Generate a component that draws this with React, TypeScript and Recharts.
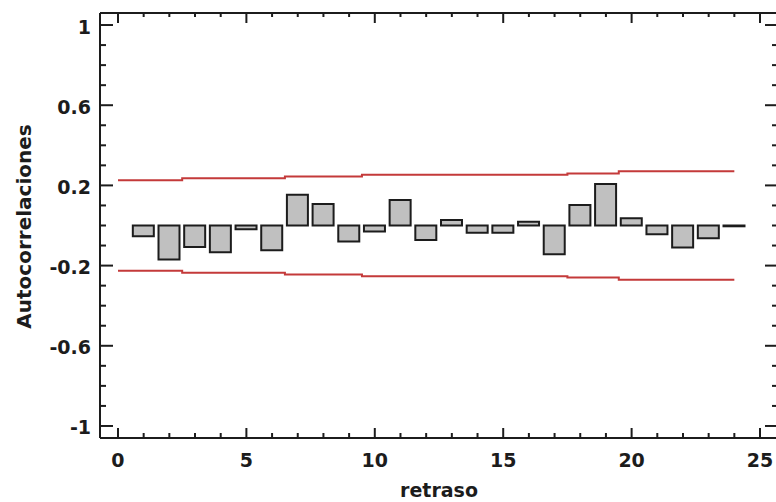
import React from 'react';
import { ComposedChart, Bar, Line, XAxis, YAxis } from 'recharts';

// Lags (0 carries only the limit lines) and sample autocorrelations
const lags = [0, 1, 2, 3, 4, 5, 6, 7, 8, 9, 10, 11, 12, 13, 14, 15, 16, 17, 18, 19, 20, 21, 22, 23, 24];
const acfValues = [
  null, -0.054, -0.169, -0.107, -0.134, -0.019, -0.124, 0.154, 0.107, -0.08, -0.03, 0.127, -0.072,
  0.027, -0.036, -0.036, 0.019, -0.144, 0.102, 0.207, 0.036, -0.044, -0.11, -0.064, -0.004,
];

// Probability limits per lag (drawn as mid-point steps)
const upperLimits = [
  0.226, 0.226, 0.226, 0.236, 0.236, 0.236, 0.236, 0.244, 0.244, 0.244, 0.253, 0.253, 0.253,
  0.253, 0.253, 0.253, 0.253, 0.253, 0.26, 0.26, 0.27, 0.27, 0.27, 0.27, 0.27,
];
const lowerLimits = [
  -0.226, -0.226, -0.226, -0.236, -0.236, -0.236, -0.236, -0.244, -0.244, -0.244, -0.253, -0.253, -0.253,
  -0.253, -0.253, -0.253, -0.253, -0.253, -0.26, -0.26, -0.27, -0.27, -0.27, -0.27, -0.27,
];

// Ticks
const xAllTicks = [0, 1, 2, 3, 4, 5, 6, 7, 8, 9, 10, 11, 12, 13, 14, 15, 16, 17, 18, 19, 20, 21, 22, 23, 24, 25];
const xMajorTicks = [0, 5, 10, 15, 20, 25];
const yAllTicks = [-1, -0.9, -0.8, -0.7, -0.6, -0.5, -0.4, -0.3, -0.2, -0.1, 0, 0.1, 0.2, 0.3, 0.4, 0.5, 0.6, 0.7, 0.8, 0.9, 1];
const yMajorTicks = [-1, -0.6, -0.2, 0.2, 0.6, 1];

const xTitle = 'retraso';
const yTitle = 'Autocorrelaciones';

const chartData = lags.map((lag, i) => ({ lag, acf: acfValues[i], up: upperLimits[i], lo: lowerLimits[i] }));

const INK = '#1c1c1c';
const FONT = { fontFamily: '"DejaVu Sans", sans-serif', fontWeight: 700 as const, fill: INK };

const isMajor = (arr: number[], v: number) => arr.some((m) => Math.abs(m - v) < 1e-9);

const LeftTick = (props: any) => {
  const { x, y, payload } = props;
  const major = isMajor(yMajorTicks, payload.value);
  return (
    <g>
      <line x1={x} x2={x + (major ? 13 : 6)} y1={y} y2={y} stroke={INK} strokeWidth={2} />
      {major && (
        <text x={x - 9} y={y} dy={8.5} textAnchor="end" fontSize={19} {...FONT}>
          {String(payload.value)}
        </text>
      )}
    </g>
  );
};

const RightTick = (props: any) => {
  const { x, y, payload } = props;
  const major = isMajor(yMajorTicks, payload.value);
  return <line x1={x} x2={x - (major ? 13 : 6)} y1={y} y2={y} stroke={INK} strokeWidth={2} />;
};

const BottomTick = (props: any) => {
  const { x, y, payload } = props;
  const major = isMajor(xMajorTicks, payload.value);
  return (
    <g>
      <line x1={x} x2={x} y1={y} y2={y - (major ? 10 : 5)} stroke={INK} strokeWidth={2} />
      {major && (
        <text x={x} y={y} dy={29} textAnchor="middle" fontSize={19} {...FONT}>
          {String(payload.value)}
        </text>
      )}
    </g>
  );
};

const TopTick = (props: any) => {
  const { x, y, payload } = props;
  const major = isMajor(xMajorTicks, payload.value);
  return <line x1={x} x2={x} y1={y} y2={y + (major ? 10 : 4)} stroke={INK} strokeWidth={2} />;
};

const renderYTitle = (props: any) => {
  const vb = props.viewBox;
  const cx = vb.x + 31;
  const cy = vb.y + vb.height / 2 + 1;
  return (
    <text x={cx} y={cy} transform={`rotate(-90 ${cx} ${cy})`} textAnchor="middle" fontSize={20} {...FONT}>
      {yTitle}
    </text>
  );
};

const renderXTitle = (props: any) => {
  const vb = props.viewBox;
  return (
    <text x={vb.x + vb.width / 2} y={vb.y + 59} textAnchor="middle" fontSize={19} {...FONT}>
      {xTitle}
    </text>
  );
};

const X_DOMAIN: [number, number] = [-0.7, 25.7];
const Y_DOMAIN: [number, number] = [-1.06, 1.06];
const AXIS_LINE = { stroke: INK, strokeWidth: 2 };

export default function App() {
  return (
    <div style={{ position: 'fixed', left: 0, top: 0, width: 776, height: 502, overflow: 'hidden', background: '#fff' }}>
      <ComposedChart width={800} height={520} data={chartData} margin={{ top: 12, right: 21, bottom: 0, left: 0 }}>
        <XAxis
          xAxisId="top"
          orientation="top"
          dataKey="lag"
          type="number"
          domain={X_DOMAIN}
          allowDataOverflow
          ticks={xAllTicks}
          interval={0}
          height={1}
          tickSize={0}
          tickMargin={0}
          tickLine={false}
          axisLine={AXIS_LINE}
          tick={<TopTick />}
        />
        <XAxis
          dataKey="lag"
          type="number"
          domain={X_DOMAIN}
          allowDataOverflow
          ticks={xAllTicks}
          interval={0}
          height={82}
          tickSize={0}
          tickMargin={0}
          tickLine={false}
          axisLine={AXIS_LINE}
          tick={<BottomTick />}
          label={{ content: renderXTitle }}
        />
        <YAxis
          type="number"
          domain={Y_DOMAIN}
          allowDataOverflow
          ticks={yAllTicks}
          interval={0}
          width={100}
          tickSize={0}
          tickMargin={0}
          tickLine={false}
          axisLine={AXIS_LINE}
          tick={<LeftTick />}
          label={{ content: renderYTitle }}
        />
        <YAxis
          yAxisId="right"
          orientation="right"
          type="number"
          domain={Y_DOMAIN}
          allowDataOverflow
          ticks={yAllTicks}
          interval={0}
          width={1}
          tickSize={0}
          tickMargin={0}
          tickLine={false}
          axisLine={AXIS_LINE}
          tick={<RightTick />}
        />
        <Bar dataKey="acf" barSize={21} fill="#c0c0c0" stroke={INK} strokeWidth={2} isAnimationActive={false} />
        <Line
          dataKey="up"
          type="step"
          stroke="#c43a3a"
          strokeWidth={2}
          dot={false}
          activeDot={false}
          isAnimationActive={false}
        />
        <Line
          dataKey="lo"
          type="step"
          stroke="#c43a3a"
          strokeWidth={2}
          dot={false}
          activeDot={false}
          isAnimationActive={false}
        />
      </ComposedChart>
    </div>
  );
}
